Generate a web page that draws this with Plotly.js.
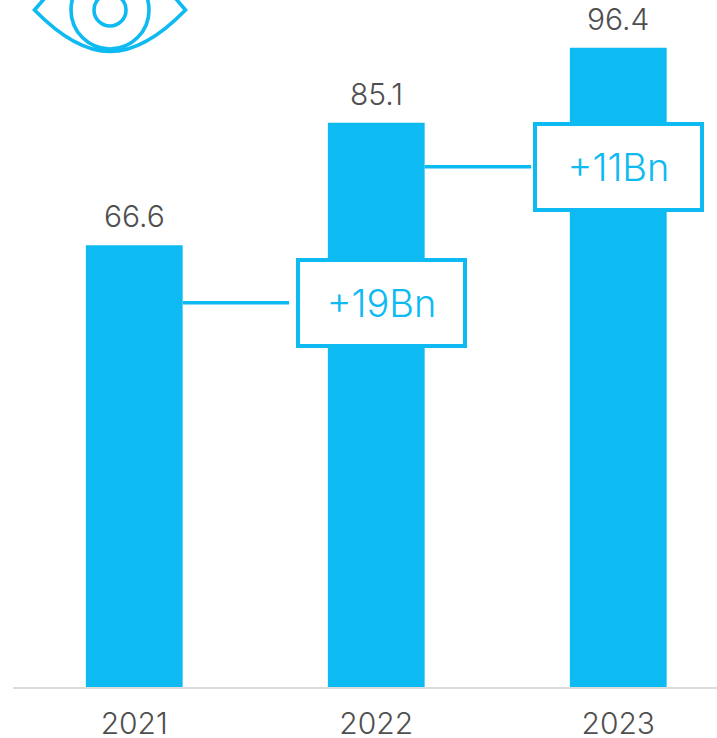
<!DOCTYPE html>
<html><head><meta charset="utf-8">
<script src="https://cdn.plot.ly/plotly-3.0.1.min.js"></script>
<style>html,body{margin:0;padding:0;background:#fff;overflow:hidden}</style></head>
<body><div id="chart" style="width:717px;height:738px"></div>
<script>
const years = ['2021','2022','2023'];
const values = [66.6,85.1,96.4];
const valueLabels = ['66.6','85.1','96.4'];
const calloutLabels = ['+19Bn','+11Bn'];
const calloutValues = [57.95,78.45];
const blue = '#0DBAF2', grey = '#4f4f4f', FONT = 'Inter, "Open Sans", sans-serif';
const W=717,H=738,L=13,B=51,T=0;
const px=x=>(x-L)/(W-L), py=y=>(H-B-y)/(H-B-T);
function P(cmds){return cmds.map(c=>typeof c==='string'?c:px(c[0]).toFixed(5)+','+py(c[1]).toFixed(5)).join(' ');}
function circle(cx,cy,r){return {type:'circle',xref:'paper',yref:'paper',x0:px(cx-r),x1:px(cx+r),y0:py(cy+r),y1:py(cy-r),line:{color:blue,width:3.6}};}
const eye = {type:'path',xref:'paper',yref:'paper',line:{color:blue,width:3.6},
  path:P(['M',[50,-8],'L',[34.5,10],'C',[54,30],[80,51.5],[110,51.5],'C',[140,51.5],[166,30],[185.5,10],'L',[170,-8]])};
const shapes=[eye,circle(110,10,39),circle(110,10,16)];
const conn=[[0.2,0.64],[1.2,1.64]];
conn.forEach((c,i)=>shapes.push({type:'line',xref:'x',yref:'y',x0:c[0],x1:c[1],y0:calloutValues[i],y1:calloutValues[i],line:{color:blue,width:3.6}}));
const annotations=[];
years.forEach((y,i)=>annotations.push({x:i,y:values[i],xref:'x',yref:'y',text:valueLabels[i],showarrow:false,yanchor:'bottom',yshift:9,font:{family:FONT,size:30,color:grey,weight:300}}));
const calloutX=[1.02,2.0];
calloutLabels.forEach((t,i)=>annotations.push({x:calloutX[i],y:calloutValues[i],xref:'x',yref:'y',text:t,showarrow:false,width:163,height:82,align:'center',valign:'middle',bgcolor:'#fff',bordercolor:blue,borderwidth:4,borderpad:0,font:{family:FONT,size:38,color:blue,weight:300}}));
Plotly.newPlot('chart',[{type:'bar',x:[0,1,2],y:values,marker:{color:blue,line:{width:0}},hoverinfo:'skip',width:0.4}],{
 width:W,height:H,margin:{l:L,r:0,t:T,b:B,pad:0},paper_bgcolor:'#fff',plot_bgcolor:'#fff',showlegend:false,
 xaxis:{type:'linear',range:[-0.501,2.408],tickvals:[0,1,2],ticktext:years,showgrid:false,zeroline:false,showline:true,linecolor:'#dcdcdc',linewidth:2,ticks:'',ticklabelstandoff:9,tickfont:{family:FONT,size:30,color:grey,weight:300}},
 yaxis:{range:[0,103.6],visible:false,fixedrange:true},
 shapes,annotations},{staticPlot:true,displayModeBar:false});
</script></body></html>
